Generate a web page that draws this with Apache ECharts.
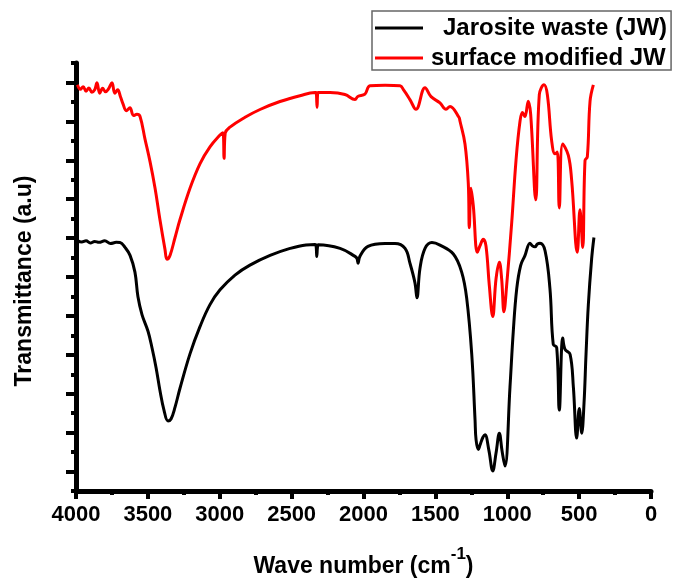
<!DOCTYPE html>
<html>
<head>
<meta charset="utf-8">
<script src="https://cdn.jsdelivr.net/npm/echarts@6/dist/echarts.min.js"></script>
<style>
html,body{margin:0;padding:0;background:#fff;}
#chart{width:673px;height:583px;}
</style>
</head>
<body>
<div id="chart"></div>
<script>
// Jarosite waste (JW): wavenumber (cm-1) and transmittance (a.u.)
var jwWave = [3990,3960,3930,3900,3870,3840,3800,3760,3720,3694,3659,3624,3590,3569,3541,3499,3471,3443,3416,3388,3360,3339,3311,3277,3207,3137,3068,2998,2894,2790,2650,2511,2400,2337,2330,2325,2320,2315,2163,2059,2045,2038,2025,1969,1850,1781,1711,1677,1642,1628,1607,1572,1524,1468,1375,1317,1282,1247,1224,1217,1201,1190,1170,1155,1128,1101,1078,1055,1036,1016,981,958,934,907,877,842,825,807,790,772,737,703,680,656,638,614,598,563,540,517,499,482,466,452,436,413,397];
var jwT    = [12.87,12.80,12.86,12.75,12.83,12.78,12.86,12.72,12.78,12.77,12.52,12.11,11.25,9.98,9.07,8.21,7.35,6.34,5.17,4.16,3.60,3.70,4.31,5.27,7.05,8.46,9.58,10.34,11.10,11.61,12.11,12.47,12.65,12.67,12.62,12.05,12.55,12.66,12.47,12.06,11.95,11.71,12.06,12.57,12.72,12.72,12.47,11.71,10.70,9.93,11.45,12.47,12.77,12.64,12.18,11.25,9.90,7.03,3.65,2.64,2.13,2.35,2.75,2.89,2.10,1.03,1.95,2.97,2.05,1.28,5.34,8.21,10.40,11.59,12.10,12.74,12.60,12.55,12.70,12.74,12.35,10.40,7.54,7.37,4.16,7.87,7.28,7.03,5.34,2.72,4.24,2.97,4.50,7.03,9.56,11.93,13.03];

// Surface modified JW
var smWave = [3990,3970,3950,3930,3910,3890,3870,3854,3835,3815,3795,3775,3750,3730,3710,3690,3673,3650,3625,3600,3576,3555,3520,3485,3450,3416,3381,3367,3346,3311,3277,3207,3137,3068,2998,2978,2970,2962,2929,2824,2720,2581,2442,2337,2330,2323,2316,2233,2129,2059,2040,1990,1955,1850,1746,1720,1677,1635,1572,1530,1468,1426,1398,1336,1329,1294,1271,1264,1252,1236,1208,1190,1167,1148,1125,1101,1078,1055,1039,1023,1004,969,939,911,894,877,854,837,802,777,744,721,691,668,652,638,614,575,552,513,494,475,459,443,424,401];
var smT    = [20.88,20.65,20.78,20.55,20.72,20.50,20.62,20.98,20.45,20.70,20.52,20.66,20.98,20.45,20.62,20.25,19.90,19.55,19.70,19.30,19.36,19.26,18.09,16.93,15.56,13.94,12.42,11.91,12.11,13.03,13.94,15.56,16.83,17.69,18.30,18.42,17.10,18.40,18.70,19.21,19.61,20.02,20.32,20.48,20.48,19.72,20.48,20.48,20.38,20.12,20.28,20.40,20.83,20.86,20.83,20.60,20.12,19.62,20.73,20.27,19.95,19.62,19.77,19.21,19.02,17.84,15.81,13.53,15.56,14.65,12.27,12.60,12.94,12.60,10.58,8.97,10.91,11.76,10.91,9.22,10.58,13.79,17.00,19.02,19.45,19.25,20.04,19.36,14.97,20.37,20.88,20.37,18.00,17.33,17.42,14.55,17.84,17.25,15.98,12.27,14.46,12.52,16.99,17.17,20.04,20.88];

var xTicks = [0,500,1000,1500,2000,2500,3000,3500,4000];
var seriesNames = ['Jarosite waste (JW)','surface modified JW'];
var seriesColors = ['#000000','#ff0000'];

function zip(a,b){var o=[];for(var i=0;i<a.length;i++)o.push([a[i],b[i]]);return o;}

var FONT = '"Liberation Sans", Arial, Helvetica, sans-serif';
var chart = echarts.init(document.getElementById('chart'), null, {renderer:'canvas'});
chart.setOption({
  animation:false,
  backgroundColor:'#ffffff',
  grid:{left:76,right:22,top:63,bottom:86,containLabel:false},
  legend:{
    data:seriesNames,
    orient:'vertical',
    left:372, top:11,
    icon:'rect', itemWidth:48, itemHeight:3, itemGap:6,
    padding:[5,4,0,3],
    borderColor:'#666', borderWidth:1.5,
    formatter:function(n){return n===seriesNames[0]?'{b|'+n+'}':'{r|'+n+'}';},
    textStyle:{
      fontSize:24,fontWeight:'bold',fontFamily:FONT,color:'#000',
      rich:{
        b:{fontSize:24,fontWeight:'bold',fontFamily:FONT,color:'#000',padding:[0,0,0,15]},
        r:{fontSize:24,fontWeight:'bold',fontFamily:FONT,color:'#000',padding:[0,0,0,3]}
      }
    }
  },
  xAxis:{
    type:'value', min:0, max:4000, interval:500, inverse:true,
    name:'{a|Wave number (cm}{s|-1}{a|)}',
    nameLocation:'middle', nameGap:55,
    nameTextStyle:{
      rich:{
        a:{fontSize:23,fontWeight:'bold',fontFamily:FONT,color:'#000',lineHeight:32,verticalAlign:'bottom'},
        s:{fontSize:17,fontWeight:'bold',fontFamily:FONT,color:'#000',lineHeight:17,verticalAlign:'top'}
      }
    },
    axisLine:{show:true,onZero:false,lineStyle:{color:'#000',width:5}},
    axisTick:{show:true,inside:false,length:8,lineStyle:{color:'#000',width:4}},
    minorTick:{show:true,splitNumber:2,length:4,lineStyle:{color:'#000',width:4}},
    axisLabel:{show:true,fontSize:22,fontWeight:'bold',fontFamily:FONT,color:'#000',margin:13,
      customValues:xTicks, formatter:function(v){return String(v);}},
    splitLine:{show:false}, minorSplitLine:{show:false}
  },
  yAxis:{
    type:'value', min:0, max:22, interval:2,
    name:'Transmittance (a.u)', nameLocation:'middle', nameRotate:90, nameGap:40,
    nameTextStyle:{fontSize:23,fontWeight:'bold',fontFamily:FONT,color:'#000',padding:[0,0,0,-8]},
    axisLine:{show:true,onZero:false,lineStyle:{color:'#000',width:5}},
    axisTick:{show:true,inside:false,length:5,lineStyle:{color:'#000',width:4}},
    minorTick:{show:true,splitNumber:2,length:10,lineStyle:{color:'#000',width:4}},
    axisLabel:{show:false},
    splitLine:{show:false}, minorSplitLine:{show:false}
  },
  series:[
    {name:seriesNames[0],type:'line',data:zip(jwWave,jwT),symbol:'none',smooth:0.4,
     color:seriesColors[0],lineStyle:{color:seriesColors[0],width:3},z:3},
    {name:seriesNames[1],type:'line',data:zip(smWave,smT),symbol:'none',smooth:0.4,
     color:seriesColors[1],lineStyle:{color:seriesColors[1],width:3},z:2}
  ]
});
</script>
</body>
</html>
